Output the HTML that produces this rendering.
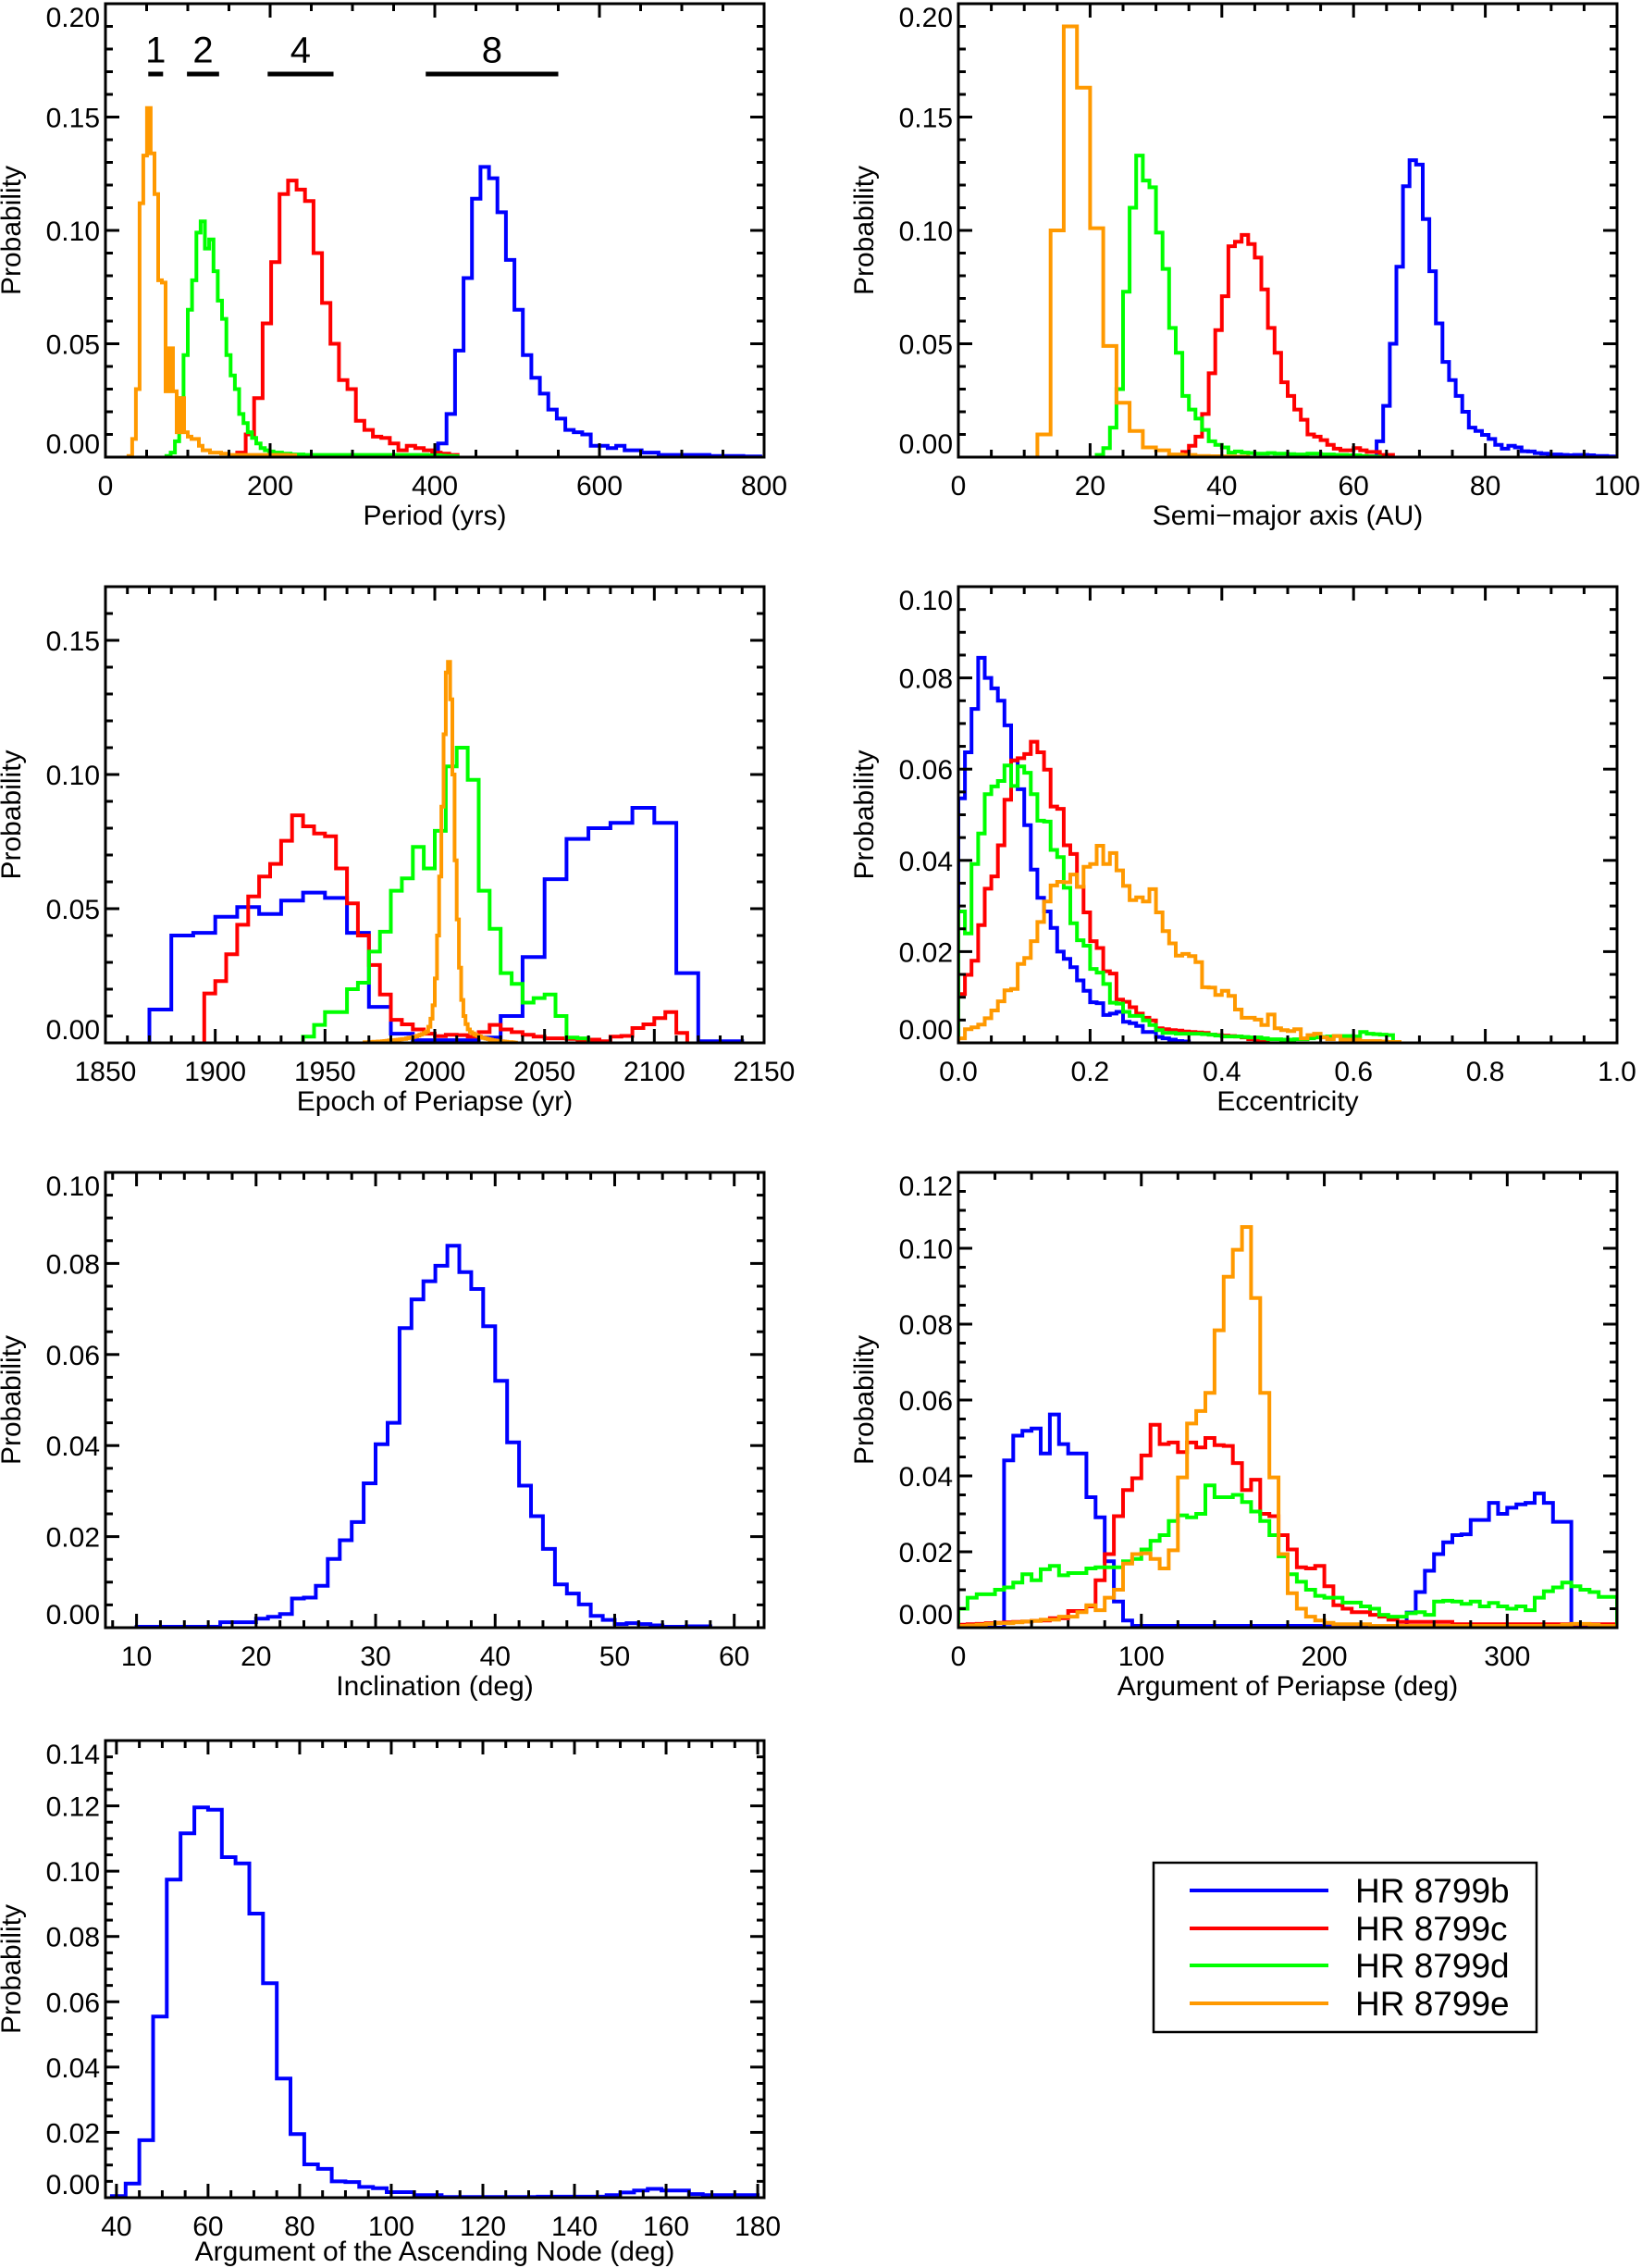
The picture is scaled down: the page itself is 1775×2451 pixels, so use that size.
<!DOCTYPE html>
<html><head><meta charset="utf-8"><style>
body{margin:0;background:#fff}
svg{display:block}
text{font-family:"Liberation Sans",Arial,sans-serif;fill:#000}
</style></head><body>
<svg id="fig" width="1775" height="2451" viewBox="0 0 1775 2451" xmlns="http://www.w3.org/2000/svg">
<g>
<rect x="1247" y="2013" width="414" height="183" fill="#fff" stroke="#000" stroke-width="2.5"/>
<g><line x1="1286" y1="2043" x2="1436" y2="2043" stroke="#0000ff" stroke-width="4"/><text x="1465" y="2056" font-size="37">HR 8799b</text></g>
<g><line x1="1286" y1="2084" x2="1436" y2="2084" stroke="#ff0000" stroke-width="4"/><text x="1465" y="2097" font-size="37">HR 8799c</text></g>
<g><line x1="1286" y1="2124" x2="1436" y2="2124" stroke="#00ff00" stroke-width="4"/><text x="1465" y="2137" font-size="37">HR 8799d</text></g>
<g><line x1="1286" y1="2165" x2="1436" y2="2165" stroke="#ff9900" stroke-width="4"/><text x="1465" y="2178" font-size="37">HR 8799e</text></g>
</g>
</svg>
<script>
// ---------- data ----------
const colors = {b:"#0000ff", c:"#ff0000", d:"#00ff00", e:"#ff9900"};

// Period (yrs)
const periodStart = {b:404, c:160, d:74, e:28};
const periodWidth = {b:10.3, c:10.3, d:5.2, e:4.5};
const periodB = [0.006,0.019,0.047,0.079,0.114,0.128,0.123,0.108,0.087,0.065,0.045,0.035,0.028,0.021,0.017,0.012,0.011,0.010,0.005,0.005,0.004,0.005,0.003,0.003,0.002,0.002,0.001,0.001,0.001,0.001,0.001,0.001,0.0005,0.0005,0.0005,0.0005,0.0003,0.0003];
const periodC = [0.002,0.010,0.026,0.059,0.086,0.116,0.122,0.118,0.113,0.090,0.068,0.050,0.034,0.030,0.016,0.012,0.009,0.0085,0.006,0.003,0.005,0.004,0.003,0.002,0.0015,0.001];
const periodD = [0.0005,0.002,0.007,0.026,0.045,0.065,0.078,0.099,0.104,0.092,0.096,0.082,0.069,0.061,0.045,0.036,0.030,0.019,0.015,0.011,0.0085,0.006,0.004,0.003,0.0025,0.002,0.002,0.0015,0.0015,0.0012,0.0012,0.0012,0.001,0.001,0.001,0.001,0.001,0.001,0.001,0.001,0.001,0.001,0.001,0.001,0.001,0.001,0.001,0.001,0.001,0.001,0.001,0.001,0.001,0.001,0.001,0.001,0.001,0.001,0.001,0.001,0.001,0.0008,0.0008,0.0008,0.0006,0.0005,0.0005,0.0004];
const periodE = [0.0005,0.008,0.030,0.112,0.133,0.154,0.134,0.116,0.078,0.077,0.029,0.048,0.029,0.011,0.026,0.011,0.009,0.008,0.008,0.005,0.003,0.003,0.002,0.002,0.002,0.0015,0.0015,0.001,0.001,0.001,0.001,0.001,0.001,0.001,0.001,0.001,0.001,0.001,0.001,0.001,0.001,0.001,0.001,0.0008,0.0008];
const periodResLabels = ["1","2","4","8"];
const periodResFrom = [52,99,197,389];
const periodResTo = [70,138,277,550];

// Semi-major axis (AU)
const smaStart = {b:60.5, c:32, d:21, e:12};
const smaWidth = {b:1, c:1, d:1, e:2};
const smaB = [0.0003,0.0003,0.0003,0.007,0.0226,0.050,0.084,0.1195,0.131,0.129,0.105,0.082,0.059,0.042,0.034,0.027,0.020,0.013,0.0115,0.0098,0.008,0.0054,0.0037,0.005,0.0043,0.0026,0.0025,0.0018,0.0015,0.001,0.0012,0.001,0.0008,0.001,0.001,0.0008,0.0005,0.0005,0.0003];
const smaC = [0.0007,0.0007,0.0023,0.005,0.009,0.019,0.037,0.056,0.071,0.093,0.095,0.098,0.094,0.088,0.074,0.057,0.046,0.033,0.027,0.021,0.0165,0.010,0.009,0.0075,0.0054,0.0037,0.003,0.003,0.004,0.003,0.0023,0.0023,0.001,0.001];
const smaD = [0.001,0.004,0.013,0.030,0.073,0.110,0.133,0.122,0.119,0.099,0.083,0.057,0.046,0.027,0.021,0.017,0.012,0.007,0.0054,0.0043,0.002,0.0025,0.002,0.0018,0.0015,0.0015,0.0018,0.0015,0.0015,0.0013,0.0012,0.0012,0.0015,0.0015,0.0012,0.0012,0.001,0.001,0.0008,0.0008,0.0005,0.0003,0.0002];
const smaE = [0.010,0.100,0.190,0.163,0.101,0.049,0.024,0.0115,0.0043,0.003,0.0012,0.001,0.0005,0.0004,0.0003,0.0002];

// Epoch of periapse (yr)
const epochStart = {b:1870, c:1895, d:1940, e:1968};
const epochWidth = {b:10, c:5, d:5, e:1};
const epochB = [0.0124,0.040,0.041,0.047,0.0506,0.048,0.053,0.056,0.054,0.041,0.0134,0.0034,0.001,0.001,0.001,0.002,0.010,0.032,0.061,0.076,0.080,0.082,0.0876,0.082,0.026,0.0006,0.0006];
const epochC = [0.0184,0.023,0.033,0.044,0.0546,0.062,0.0667,0.0753,0.0848,0.0807,0.078,0.077,0.065,0.052,0.040,0.029,0.018,0.0086,0.0069,0.005,0.0034,0.0025,0.003,0.0029,0.0023,0.004,0.0067,0.005,0.004,0.003,0.0023,0.0017,0.0017,0.0015,0.0012,0.0012,0.0006,0.0023,0.0026,0.0055,0.0069,0.0092,0.0115,0.0037];
const epochD = [0.0023,0.0067,0.0115,0.0115,0.020,0.0224,0.034,0.0414,0.0567,0.0613,0.073,0.065,0.079,0.103,0.110,0.098,0.0567,0.0425,0.026,0.022,0.015,0.0167,0.018,0.010,0.002,0.0017];
const epochE = [0.0002,0.0002,0.0003,0.0003,0.0004,0.0004,0.0005,0.0005,0.0006,0.0007,0.0008,0.0009,0.001,0.001,0.0011,0.0012,0.0013,0.0014,0.0015,0.0017,0.0019,0.002,0.0022,0.0024,0.0027,0.003,0.0033,0.0037,0.0042,0.006,0.009,0.014,0.024,0.040,0.062,0.088,0.115,0.138,0.142,0.128,0.100,0.068,0.046,0.028,0.016,0.010,0.007,0.005,0.004,0.0035,0.003,0.0027,0.0024,0.002,0.0018,0.0016,0.0014,0.0012,0.001,0.0009,0.0008,0.0007,0.0006,0.0005,0.0004,0.0003,0.0003,0.0002,0.0001];

// Eccentricity
const eccStart = {b:0, c:0, d:0, e:0};
const eccWidth = {b:0.01, c:0.01, d:0.01, e:0.01};
const eccB = [0.0536,0.0637,0.0732,0.0844,0.080,0.0777,0.075,0.0696,0.0619,0.0556,0.0477,0.038,0.0318,0.0288,0.0252,0.020,0.0184,0.0166,0.0137,0.0114,0.0089,0.0087,0.0061,0.0064,0.0068,0.0046,0.0043,0.0037,0.0024,0.0024,0.0013,0.001,0.0007,0.0004,0.0003];
const eccC = [0.0107,0.0149,0.018,0.0258,0.0338,0.0365,0.0433,0.0533,0.0619,0.0624,0.0633,0.066,0.0637,0.0599,0.0518,0.0513,0.0433,0.0414,0.0342,0.0286,0.0223,0.0208,0.0157,0.0152,0.0095,0.009,0.0078,0.0064,0.0055,0.0049,0.0032,0.003,0.0028,0.0027,0.0025,0.0024,0.0023,0.0022,0.0018,0.0017,0.0016,0.0015,0.0014,0.0012,0.0008,0.0006,0.0005];
const eccD = [0.0288,0.024,0.0392,0.0459,0.0545,0.0562,0.0574,0.0608,0.0563,0.0606,0.0592,0.0545,0.0487,0.0485,0.0423,0.0407,0.034,0.0262,0.0225,0.0213,0.0162,0.0154,0.0129,0.0088,0.0086,0.0068,0.0059,0.0059,0.0049,0.0039,0.0028,0.0022,0.0022,0.002,0.002,0.002,0.002,0.0019,0.0018,0.0016,0.0014,0.0014,0.0014,0.0013,0.0012,0.0012,0.001,0.0008,0.0008,0.0007,0.0007,0.0008,0.0008,0.001,0.0012,0.0013,0.0014,0.0015,0.0015,0.0015,0.0014,0.0024,0.002,0.0019,0.0018,0.0017];
const eccE = [0.001,0.003,0.0034,0.004,0.0054,0.0071,0.0091,0.0115,0.0118,0.0173,0.0186,0.0223,0.0265,0.031,0.0345,0.0353,0.0352,0.0369,0.0342,0.0386,0.0392,0.0432,0.0392,0.0416,0.0378,0.0344,0.0313,0.0319,0.031,0.0337,0.0286,0.0245,0.0218,0.0191,0.0195,0.019,0.0177,0.0122,0.0121,0.0105,0.0114,0.0103,0.0073,0.0055,0.0055,0.0051,0.0039,0.0062,0.0032,0.0028,0.0026,0.003,0.001,0.0017,0.002,0.0012,0.0008,0.0015,0.0007,0.0007,0.0007,0.0004,0.0004,0.0004,0.0003,0.0002,0.0002];

// Inclination (deg)
const incStart = {b:10};
const incWidth = {b:1};
const incB = [0.0002,0.0002,0.0002,0.0002,0.0002,0.0002,0.0002,0.0012,0.0012,0.0012,0.002,0.0024,0.003,0.0064,0.0066,0.0092,0.0151,0.0192,0.0232,0.0317,0.0403,0.045,0.0658,0.0721,0.0761,0.0795,0.0839,0.0781,0.0744,0.0662,0.0542,0.0407,0.0312,0.0245,0.0173,0.0095,0.0075,0.0051,0.0026,0.0017,0.0008,0.001,0.0008,0.0005,0.0002,0.0002,0.0003,0.0003];

// Argument of periapse (deg)
const argStart = {b:0, c:0, d:0, e:0};
const argWidth = {b:5, c:5, d:5, e:5};
const argB = [0,0,0,0,0,0.0441,0.0506,0.0519,0.0525,0.0459,0.0562,0.0484,0.0459,0.0459,0.0344,0.0291,0.0175,0.0069,0.0019,0.0005,0.0005,0.0005,0.0005,0.0005,0.0005,0.0005,0.0005,0.0005,0.0005,0.0005,0.0005,0.0005,0.0005,0.0005,0.0005,0.0005,0.0005,0.0005,0.0005,0.0005,0.0005,0.0005,0.0005,0.0005,0.0005,0.0005,0.0005,0.0005,0.0005,0.004,0.0094,0.015,0.0194,0.0225,0.0244,0.0246,0.0284,0.0284,0.0329,0.03,0.0316,0.0325,0.0329,0.0354,0.0329,0.0279,0.0279,0.0003,0.0003,0.0003,0.0003,0.0003];
const argC = [0.0008,0.0009,0.001,0.0012,0.0013,0.0014,0.0015,0.0016,0.0018,0.0019,0.0025,0.0025,0.0044,0.0044,0.0056,0.0125,0.0194,0.0294,0.0363,0.0394,0.0454,0.0535,0.0484,0.0488,0.0463,0.0488,0.0475,0.05,0.0481,0.0479,0.0434,0.0363,0.039,0.03,0.0294,0.0244,0.0206,0.0159,0.0156,0.0163,0.0109,0.0059,0.005,0.0041,0.0041,0.0034,0.0029,0.0021,0.0015,0.0015,0.0015,0.0015,0.0015,0.0015,0.0009,0.0009,0.0009,0.0009,0.0009,0.0009,0.0009,0.0009,0.0009,0.0009,0.0009,0.0009,0.0009,0.0009,0.0009,0.0009,0.0009,0.0009];
const argD = [0.005,0.0079,0.0088,0.0088,0.01,0.0106,0.0119,0.0141,0.0125,0.0154,0.0163,0.0138,0.0144,0.0144,0.0156,0.0159,0.0159,0.0159,0.0175,0.0181,0.0206,0.0229,0.0244,0.0281,0.0296,0.0291,0.03,0.0375,0.0344,0.0344,0.035,0.0331,0.0306,0.0281,0.0244,0.0188,0.0141,0.0121,0.01,0.0084,0.0079,0.0079,0.0066,0.0066,0.0056,0.005,0.0034,0.0029,0.0029,0.0038,0.0041,0.0034,0.0069,0.0071,0.0069,0.0063,0.0069,0.0056,0.0065,0.0056,0.005,0.0056,0.0046,0.0079,0.0096,0.0106,0.0119,0.0109,0.01,0.0094,0.0081,0.0081];
const argE = [0.0005,0.0006,0.0008,0.001,0.0012,0.0012,0.0014,0.0016,0.0018,0.0021,0.0021,0.0029,0.0029,0.0041,0.0059,0.0046,0.0079,0.01,0.0169,0.0194,0.0196,0.0181,0.0156,0.0204,0.0396,0.0538,0.0571,0.0619,0.0784,0.0925,0.0996,0.1056,0.0869,0.0619,0.0396,0.0194,0.0091,0.005,0.0029,0.0019,0.0013,0.0009,0.0009,0.0009,0.0009,0.0005,0.0005,0.0005,0.0005,0.0005,0.0005,0.0005,0.0005,0.0005,0.0005,0.0005,0.0005,0.0005,0.0005,0.0005,0.0005,0.0005,0.0005,0.0005,0.0005,0.0005,0.0008,0.001,0.001,0.0008,0.0005,0.0005];

// Argument of ascending node (deg)
const nodeStart = {b:39};
const nodeWidth = {b:3};
const nodeB = [0.0005,0.0043,0.0176,0.0555,0.0974,0.1116,0.1195,0.1188,0.1043,0.1024,0.087,0.0657,0.0365,0.0195,0.0102,0.0088,0.005,0.0048,0.0033,0.0029,0.0017,0.0017,0.0008,0.0008,0.0002,0.0002,0.0002,0.0002,0.0002,0.0002,0.0002,0.0003,0.0003,0.0003,0.0003,0.0003,0.0008,0.0016,0.0022,0.0027,0.0022,0.0022,0.0011,0.0008,0.0008,0.0008,0.0008];

// tick labels
const periodXTicks = [0,200,400,600,800];
const smaXTicks = [0,20,40,60,80,100];
const epochXTicks = [1850,1900,1950,2000,2050,2100,2150];
const eccXTicks = [0,0.2,0.4,0.6,0.8,1.0];
const incXTicks = [10,20,30,40,50,60];
const argXTicks = [0,100,200,300];
const nodeXTicks = [40,60,80,100,120,140,160,180];
const y020Ticks = [0,0.05,0.10,0.15,0.20];
const y015Ticks = [0,0.05,0.10,0.15];
const y010Ticks = [0,0.02,0.04,0.06,0.08,0.10];
const y012Ticks = [0,0.02,0.04,0.06,0.08,0.10,0.12];
const y014Ticks = [0,0.02,0.04,0.06,0.08,0.10,0.12,0.14];

// ---------- drawing ----------
const NS = "http://www.w3.org/2000/svg";
const fig = document.getElementById("fig");
function el(tag, attrs, parent){
  const e = document.createElementNS(NS, tag);
  for (const k in attrs) e.setAttribute(k, attrs[k]);
  (parent||fig).appendChild(e);
  return e;
}
const COLX = [114, 1036], PW = 712;
const ROWS = [[4,494],[634,1127],[1267,1759],[1881,2375]];

function panel(o){
  const g = el("g", {});
  
  
  const L = o.left, R = o.left + PW, T = o.top, B = o.bottom;
  const sx = v => L + (v - o.xmin) / (o.xmax - o.xmin) * (R - L);
  const sy = v => B - (v - o.ymin) / (o.ymax - o.ymin) * (B - T);
  const clipId = "clip-" + o.name;
  const cp = el("clipPath", {id: clipId}, g);
  el("rect", {x:L, y:T-2, width:R-L, height:B-T+2}, cp);
  const sg = el("g", {"clip-path":"url(#"+clipId+")"}, g);
  o.series.forEach(s => {
    let d = "M" + sx(s.start).toFixed(1) + " " + sy(0).toFixed(1);
    s.values.forEach((v, i) => {
      d += "V" + sy(v).toFixed(1) + "H" + sx(s.start + (i + 1) * s.width).toFixed(1);
    });
    d += "V" + sy(0).toFixed(1);
    const p = el("path", {d:d, fill:"none", stroke:s.color, "stroke-width":4, "stroke-linejoin":"miter"}, sg);
    
    
  });
  const fr = el("rect", {x:L, y:T, width:R-L, height:B-T, fill:"none", stroke:"#000", "stroke-width":3}, g);
  
  
  const tk = el("g", {stroke:"#000", "stroke-width":3}, g);
  
  
  const eps = 1e-9;
  for (let v = Math.ceil((o.xmin - eps) / o.xminor) * o.xminor; v <= o.xmax + eps; v += o.xminor){
    const major = Math.abs(Math.round(v / o.xmajor) * o.xmajor - v) < o.xminor * 0.01;
    const len = major ? 15 : 8, x = sx(v);
    el("line", {x1:x, y1:B, x2:x, y2:B-len}, tk);
    el("line", {x1:x, y1:T, x2:x, y2:T+len}, tk);
  }
  for (let v = o.ymin; v <= o.ymax + eps; v += o.yminor){
    const major = Math.abs(Math.round(v / o.ymajor) * o.ymajor - v) < o.yminor * 0.01;
    const len = major ? 15 : 8, y = sy(v);
    el("line", {x1:L, y1:y, x2:L+len, y2:y}, tk);
    el("line", {x1:R, y1:y, x2:R-len, y2:y}, tk);
  }
  o.xticks.forEach(v => {
    const t = el("text", {x:sx(v), y:B+41, "font-size":30, "text-anchor":"middle"}, g);
    t.textContent = v.toFixed(o.xdec);
    
    
  });
  o.yticks.forEach(v => {
    const by = Math.min(B - 4, Math.max(T + 25, sy(v) + 11));
    const t = el("text", {x:L-6, y:by, "font-size":30, "text-anchor":"end"}, g);
    t.textContent = v.toFixed(2);
    
    
  });
  const xt = el("text", {x:(L+R)/2, y:B+(o.titleOff||73), "font-size":30, "text-anchor":"middle"}, g);
  xt.textContent = o.xtitle;
  
  
  const yt = el("text", {x:0, y:0, "font-size":30, "text-anchor":"middle", transform:"translate(" + (L-92) + "," + ((T+B)/2) + ") rotate(-90)"}, g);
  yt.textContent = "Probability";
  
  
  return {g, sx, sy};
}
function ser(key, start, width, values){
  return {name:"histogram-hr8799" + key, color:colors[key], start:start[key], width:width[key], values:values};
}

const p1 = panel({name:"period-panel", left:COLX[0], top:ROWS[0][0], bottom:ROWS[0][1], xmin:0, xmax:800, ymin:0, ymax:0.20,
  xmajor:200, xminor:50, ymajor:0.05, yminor:0.01, xticks:periodXTicks, yticks:y020Ticks, xdec:0, xtitle:"Period (yrs)",
  series:[ser("b",periodStart,periodWidth,periodB), ser("c",periodStart,periodWidth,periodC), ser("d",periodStart,periodWidth,periodD), ser("e",periodStart,periodWidth,periodE)]});
periodResLabels.forEach((lab, i) => {
  const x1 = p1.sx(periodResFrom[i]), x2 = p1.sx(periodResTo[i]);
  const ln = el("line", {x1:x1, y1:p1.sy(0.169), x2:x2, y2:p1.sy(0.169), stroke:"#000", "stroke-width":5}, p1.g);
  
  
  const t = el("text", {x:(x1+x2)/2, y:p1.sy(0.174), "font-size":40, "text-anchor":"middle"}, p1.g);
  t.textContent = lab;
  
  
});
panel({name:"semimajor-axis-panel", left:COLX[1], top:ROWS[0][0], bottom:ROWS[0][1], xmin:0, xmax:100, ymin:0, ymax:0.20,
  xmajor:20, xminor:5, ymajor:0.05, yminor:0.01, xticks:smaXTicks, yticks:y020Ticks, xdec:0, xtitle:"Semi\u2212major axis (AU)",
  series:[ser("b",smaStart,smaWidth,smaB), ser("c",smaStart,smaWidth,smaC), ser("d",smaStart,smaWidth,smaD), ser("e",smaStart,smaWidth,smaE)]});
panel({name:"epoch-panel", left:COLX[0], top:ROWS[1][0], bottom:ROWS[1][1], xmin:1850, xmax:2150, ymin:0, ymax:0.17,
  xmajor:50, xminor:10, ymajor:0.05, yminor:0.01, xticks:epochXTicks, yticks:y015Ticks, xdec:0, xtitle:"Epoch of Periapse (yr)",
  series:[ser("b",epochStart,epochWidth,epochB), ser("c",epochStart,epochWidth,epochC), ser("d",epochStart,epochWidth,epochD), ser("e",epochStart,epochWidth,epochE)]});
panel({name:"eccentricity-panel", left:COLX[1], top:ROWS[1][0], bottom:ROWS[1][1], xmin:0, xmax:1, ymin:0, ymax:0.10,
  xmajor:0.2, xminor:0.05, ymajor:0.02, yminor:0.005, xticks:eccXTicks, yticks:y010Ticks, xdec:1, xtitle:"Eccentricity",
  series:[ser("b",eccStart,eccWidth,eccB), ser("c",eccStart,eccWidth,eccC), ser("d",eccStart,eccWidth,eccD), ser("e",eccStart,eccWidth,eccE)]});
panel({name:"inclination-panel", left:COLX[0], top:ROWS[2][0], bottom:ROWS[2][1], xmin:7.4, xmax:62.5, ymin:0, ymax:0.10,
  xmajor:10, xminor:2, ymajor:0.02, yminor:0.005, xticks:incXTicks, yticks:y010Ticks, xdec:0, xtitle:"Inclination (deg)",
  series:[ser("b",incStart,incWidth,incB)]});
panel({name:"argument-of-periapse-panel", left:COLX[1], top:ROWS[2][0], bottom:ROWS[2][1], xmin:0, xmax:360, ymin:0, ymax:0.12,
  xmajor:100, xminor:20, ymajor:0.02, yminor:0.005, xticks:argXTicks, yticks:y012Ticks, xdec:0, xtitle:"Argument of Periapse (deg)",
  series:[ser("b",argStart,argWidth,argB), ser("c",argStart,argWidth,argC), ser("d",argStart,argWidth,argD), ser("e",argStart,argWidth,argE)]});
panel({name:"ascending-node-panel", left:COLX[0], top:ROWS[3][0], bottom:ROWS[3][1], xmin:37.6, xmax:181.4, ymin:0, ymax:0.14,
  xmajor:20, xminor:5, ymajor:0.02, yminor:0.005, xticks:nodeXTicks, yticks:y014Ticks, xdec:0, xtitle:"Argument of the Ascending Node (deg)", titleOff:68,
  series:[ser("b",nodeStart,nodeWidth,nodeB)]});
</script>
</body></html>
